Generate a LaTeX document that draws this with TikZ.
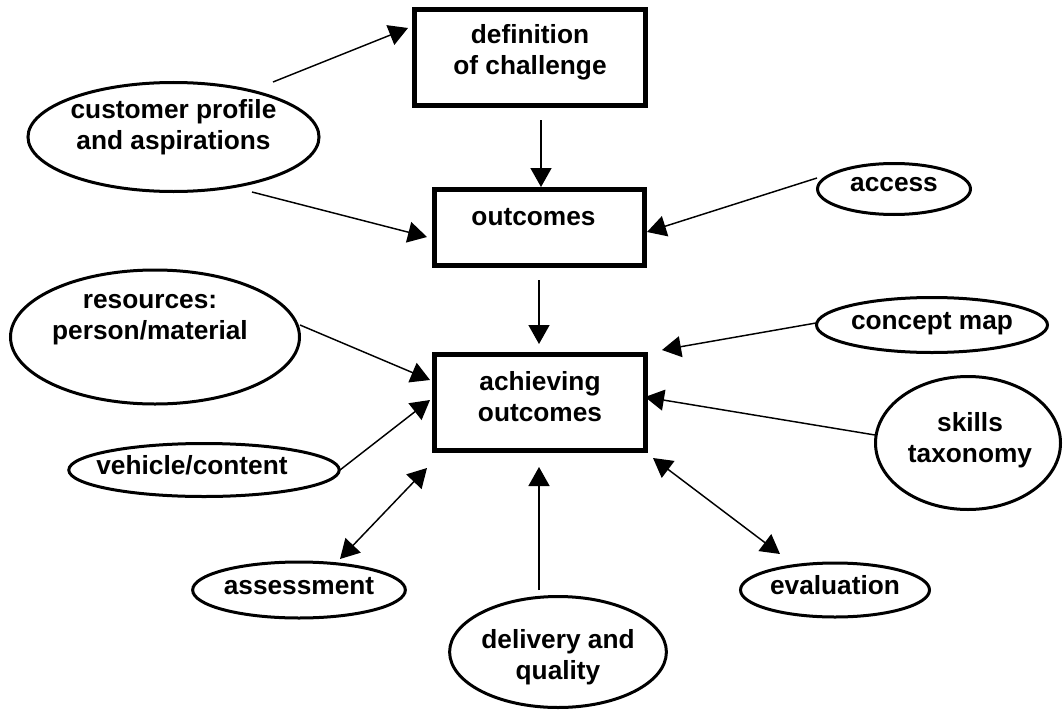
\documentclass[tikz,border=0pt]{standalone}
\usepackage{fontspec}
\setmainfont{Liberation Sans}
\usetikzlibrary{arrows.meta,shapes.geometric}
\newdimen\pxu \pxu=0.75pt
% label text: horizontal shift, vertical lift, lines
\newcommand\lbl[3]{\raisebox{#2\pxu}[\height][\depth]{\kern#1\pxu\begin{tabular}{@{}c@{}}#3\end{tabular}\kern-#1\pxu}}
\begin{document}
\begin{tikzpicture}[x=0.75pt,y=-0.75pt,
  txt/.style={inner sep=0pt, font={\fontsize{19.7}{23.25}\selectfont\bfseries}},
  stepbox/.style={txt, draw, rectangle, line width=3.75pt},
  oval/.style={txt, draw, ellipse, line width=2.25pt},
  conn/.style={line width=1.1pt, -{Triangle[length=14.25pt,width=15.75pt]}},
  bothway/.style={line width=1.1pt, {Triangle[length=14.25pt,width=15.75pt]}-{Triangle[length=14.25pt,width=15.75pt]}}]
\useasboundingbox (0,0) rectangle (1063,710);

% central boxes
\node[stepbox, minimum width=173.25pt, minimum height=72pt] (def) at (530,57.5) {\lbl{0}{4.5}{definition\\of challenge}};
\node[stepbox, minimum width=157.5pt, minimum height=57pt] (out) at (539.5,227.5) {\lbl{-6}{8}{outcomes}};
\node[stepbox, minimum width=158.25pt, minimum height=72pt] (ach) at (540,402.5) {\lbl{0}{3}{achieving\\outcomes}};

% surrounding ellipses
\node[oval, minimum width=214.5pt, minimum height=81.75pt] (cust) at (173.5,137) {\lbl{0}{9}{customer profile\\and aspirations}};
\node[oval, minimum width=114.75pt, minimum height=38.25pt] (acc) at (894,189) {\lbl{0}{4}{access}};
\node[oval, minimum width=216.75pt, minimum height=100.5pt] (res) at (155,337) {\lbl{-5}{19}{resources:\\person/material}};
\node[oval, minimum width=173.25pt, minimum height=41.25pt] (map) at (932,325) {\lbl{0}{2}{concept map}};
\node[oval, minimum width=138.75pt, minimum height=99.75pt] (skl) at (968,443) {\lbl{2}{2}{skills\\taxonomy}};
\node[oval, minimum width=201.75pt, minimum height=39.75pt] (veh) at (204,470) {\lbl{-12}{2}{vehicle/content}};
\node[oval, minimum width=143.25pt, minimum height=42pt] (ass) at (299,590) {\lbl{0}{2}{assessment}};
\node[oval, minimum width=141.75pt, minimum height=40.5pt] (eva) at (835,590) {\lbl{0}{2}{evaluation}};
\node[oval, minimum width=158.25pt, minimum height=83.25pt] (del) at (558,652) {\lbl{0}{-6}{delivery and\\quality}};

% connector ends
\coordinate (cust-a) at (273,82);   \coordinate (def-a) at (408,28);
\coordinate (def-b) at (541,120);   \coordinate (out-b) at (541,187);
\coordinate (cust-c) at (252,192);  \coordinate (out-c) at (427,237);
\coordinate (acc-d) at (817,178);   \coordinate (out-d) at (647,232);
\coordinate (out-e) at (539,280);   \coordinate (ach-e) at (539,344);
\coordinate (res-f) at (300,325);   \coordinate (ach-f) at (430,380);
\coordinate (veh-g) at (340,470);   \coordinate (ach-g) at (430,400);
\coordinate (map-h) at (816,323);   \coordinate (ach-h) at (662,350);
\coordinate (skl-i) at (875,435);   \coordinate (ach-i) at (645,397);
\coordinate (ach-j) at (427,468);   \coordinate (ass-j) at (340,559);
\coordinate (del-k) at (539,590);   \coordinate (ach-k) at (539,467);
\coordinate (ach-l) at (653,458);   \coordinate (eva-l) at (780,554);

% connectors
\draw[conn] (cust-a) -- (def-a);
\draw[conn] (def-b) -- (out-b);
\draw[conn] (cust-c) -- (out-c);
\draw[conn] (acc-d) -- (out-d);
\draw[conn] (out-e) -- (ach-e);
\draw[conn] (res-f) -- (ach-f);
\draw[conn] (veh-g) -- (ach-g);
\draw[conn] (map-h) -- (ach-h);
\draw[conn] (skl-i) -- (ach-i);
\draw[bothway] (ach-j) -- (ass-j);
\draw[conn] (del-k) -- (ach-k);
\draw[bothway] (ach-l) -- (eva-l);
\end{tikzpicture}
\end{document}
